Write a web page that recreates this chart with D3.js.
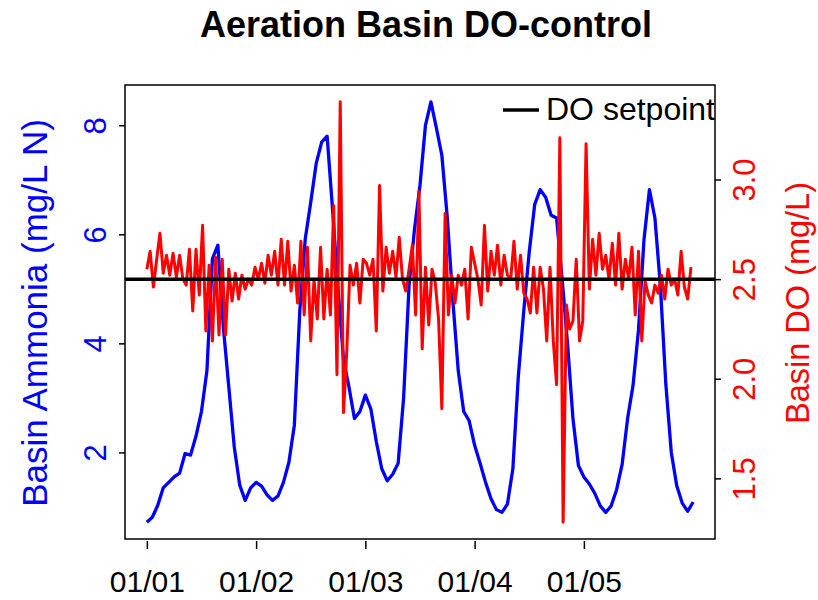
<!DOCTYPE html>
<html>
<head>
<meta charset="utf-8">
<script src="https://cdn.jsdelivr.net/npm/d3@7"></script>
<style>
  body { margin: 0; background: #fff; }
  text { font-family: "Liberation Sans", Arial, sans-serif; }
</style>
</head>
<body>
<div id="canvas"></div>
<script>
"use strict"

/* ---------- data ---------- */
let dayTicks = [0, 1, 2, 3, 4];
let dayLabels = ["01/01", "01/02", "01/03", "01/04", "01/05"];
let ammoniaTicks = [2, 4, 6, 8];
let doTicks = [1.5, 2.0, 2.5, 3.0];
let doSetpoint = 2.5;

// basin ammonia (mg/L N), one reading every 0.05 day
let ammoniaStep = 0.05;
let ammonia = [
  0.72, 0.81, 1.03, 1.35, 1.45, 1.55, 1.62, 1.98, 1.95, 2.30,
  2.75, 3.50, 5.55, 5.80, 4.30, 3.20, 2.10, 1.40, 1.12, 1.35,
  1.45, 1.38, 1.22, 1.12, 1.20, 1.45, 1.82, 2.50, 4.60, 5.92,
  6.59, 7.30, 7.69, 7.80, 6.45, 5.00, 3.70, 3.20, 2.62, 2.75,
  3.05, 2.80, 2.20, 1.70, 1.48, 1.60, 1.80, 3.00, 5.06, 6.10,
  6.90, 8.00, 8.43, 7.95, 7.45, 6.30, 4.80, 3.50, 2.75, 2.58,
  2.13, 1.80, 1.45, 1.15, 0.95, 0.90, 1.05, 1.70, 3.40, 4.60,
  5.68, 6.55, 6.82, 6.68, 6.35, 6.30, 5.20, 4.00, 2.62, 1.76,
  1.55, 1.42, 1.25, 1.02, 0.90, 1.02, 1.32, 1.78, 2.62, 3.23,
  4.25, 5.90, 6.82, 6.30, 5.06, 3.25, 2.00, 1.39, 1.07, 0.92,
  1.09
];

// basin DO (mg/L), one reading every 0.03 day
let doStep = 0.03;
let basinDO = [
  2.55, 2.64, 2.46, 2.60, 2.73, 2.53, 2.62, 2.52, 2.63, 2.51,
  2.62, 2.50, 2.47, 2.65, 2.34, 2.65, 2.42, 2.77, 2.24, 2.57,
  2.19, 2.61, 2.22, 2.60, 2.22, 2.55, 2.39, 2.53, 2.40, 2.52,
  2.45, 2.50, 2.47, 2.56,
  2.50, 2.58, 2.48, 2.62, 2.52, 2.64, 2.47, 2.70, 2.47, 2.69,
  2.44, 2.57, 2.38, 2.69, 2.32, 2.66, 2.19, 2.50, 2.30, 2.66,
  2.30, 2.55, 2.32, 2.87, 2.02, 3.39, 1.83, 2.14, 2.57, 2.47,
  2.58, 2.38, 2.60,
  2.58, 2.52, 2.60, 2.24, 2.97, 2.44, 2.66, 2.53, 2.64, 2.51,
  2.71, 2.50, 2.44, 2.55, 2.67, 2.32, 2.94, 2.15, 2.56, 2.27,
  2.55, 2.48, 2.30, 1.85, 2.83, 2.32, 2.52, 2.38, 2.52, 2.47,
  2.55, 2.30, 2.66,
  2.58, 2.50, 2.37, 2.77, 2.44, 2.64, 2.52, 2.67, 2.47, 2.62,
  2.52, 2.50, 2.69, 2.45, 2.62, 2.43, 2.40, 2.33, 2.56, 2.33,
  2.56, 2.45, 2.19, 2.56, 2.19, 1.97, 3.21, 1.28, 2.37, 2.25,
  2.29, 2.60, 2.19,
  2.29, 3.18, 2.45, 2.70, 2.52, 2.73, 2.55, 2.62, 2.50, 2.68,
  2.47, 2.73, 2.45, 2.60, 2.50, 2.66, 2.32, 2.64, 2.19, 2.49,
  2.42, 2.38, 2.47, 2.43, 2.52, 2.40, 2.55, 2.47, 2.50, 2.42,
  2.64, 2.46, 2.40, 2.56
];

/* ---------- canvas ---------- */
let drawing = d3.select("#canvas")
  .append("svg")
  .attr("width", 818)
  .attr("height", 600);

let plotLeft = 125, plotRight = 715, plotTop = 85, plotBottom = 539;

// R style 4% padding around the data range
function padded(ext) {
  let r = ext[1] - ext[0];
  return [ext[0] - 0.04 * r, ext[1] + 0.04 * r];
}

let lastDay = (ammonia.length - 1) * ammoniaStep;
let x = d3.scaleLinear().domain(padded([0, lastDay])).range([plotLeft, plotRight]);
let yNH = d3.scaleLinear().domain(padded(d3.extent(ammonia))).range([plotBottom, plotTop]);
let yDO = d3.scaleLinear().domain(padded(d3.extent(basinDO))).range([plotBottom, plotTop]);

/* ---------- series ---------- */
let nhLine = d3.line()
  .x((d, i) => x(i * ammoniaStep))
  .y(d => yNH(d));

let doLine = d3.line()
  .x((d, i) => x(i * doStep))
  .y(d => yDO(d));

drawing.append("path")
  .datum(ammonia)
  .attr("d", nhLine)
  .attr("fill", "none")
  .attr("stroke", "#0000ff")
  .attr("stroke-width", 3.3)
  .attr("stroke-linejoin", "round");

drawing.append("path")
  .datum(basinDO)
  .attr("d", doLine)
  .attr("fill", "none")
  .attr("stroke", "#ff0000")
  .attr("stroke-width", 3)
  .attr("stroke-linejoin", "round");

// DO setpoint across the whole plot
drawing.append("line")
  .attr("x1", plotLeft).attr("x2", plotRight)
  .attr("y1", yDO(doSetpoint)).attr("y2", yDO(doSetpoint))
  .attr("stroke", "black")
  .attr("stroke-width", 3.5);

// box
drawing.append("rect")
  .attr("x", plotLeft).attr("y", plotTop)
  .attr("width", plotRight - plotLeft).attr("height", plotBottom - plotTop)
  .attr("fill", "none")
  .attr("stroke", "black")
  .attr("stroke-width", 1.5);

/* ---------- axes ---------- */
let xAxis = drawing.append("g")
  .attr("transform", "translate(0," + (plotBottom + 2) + ")")
  .call(d3.axisBottom(x).tickValues(dayTicks).tickFormat((d, i) => dayLabels[i]).tickSize(8).tickPadding(22));
xAxis.select(".domain").remove();
xAxis.selectAll("line").attr("stroke-width", 1.5);
xAxis.selectAll("text").attr("font-size", 30).attr("fill", "black");

let leftAxis = drawing.append("g")
  .attr("transform", "translate(" + plotLeft + ",0)")
  .call(d3.axisLeft(yNH).tickValues(ammoniaTicks).tickSize(6));
leftAxis.select(".domain").remove();
leftAxis.selectAll("line").attr("stroke-width", 1.5);
leftAxis.selectAll("text")
  .attr("font-size", 31).attr("fill", "#0000ff")
  .attr("x", 0).attr("dy", 0)
  .attr("text-anchor", "middle")
  .attr("transform", "translate(-19,0) rotate(-90)");

let rightAxis = drawing.append("g")
  .attr("transform", "translate(" + plotRight + ",0)")
  .call(d3.axisRight(yDO).tickValues(doTicks).tickFormat(d3.format(".1f")).tickSize(6));
rightAxis.select(".domain").remove();
rightAxis.selectAll("line").attr("stroke-width", 1.5);
rightAxis.selectAll("text")
  .attr("font-size", 31).attr("fill", "#ff0000")
  .attr("x", 0).attr("dy", 0)
  .attr("text-anchor", "middle")
  .attr("transform", "translate(40,0) rotate(-90)");

/* ---------- titles ---------- */
drawing.append("text")
  .attr("x", 426).attr("y", 37)
  .attr("text-anchor", "middle")
  .attr("font-size", 36).attr("font-weight", "bold")
  .text("Aeration Basin DO-control");

drawing.append("text")
  .attr("transform", "translate(47,313) rotate(-90)")
  .attr("text-anchor", "middle")
  .attr("font-size", 35).attr("fill", "#0000ff")
  .text("Basin Ammonia (mg/L N)");

drawing.append("text")
  .attr("transform", "translate(809,303) rotate(-90)")
  .attr("text-anchor", "middle")
  .attr("font-size", 32.5).attr("fill", "#ff0000")
  .text("Basin DO (mg/L)");

/* ---------- legend ---------- */
let legend = drawing.append("g");
legend.append("line")
  .attr("x1", 503).attr("x2", 539)
  .attr("y1", 110).attr("y2", 110)
  .attr("stroke", "black").attr("stroke-width", 3.5);
legend.append("text")
  .attr("x", 546).attr("y", 120)
  .attr("font-size", 32)
  .text("DO setpoint");
</script>
</body>
</html>
